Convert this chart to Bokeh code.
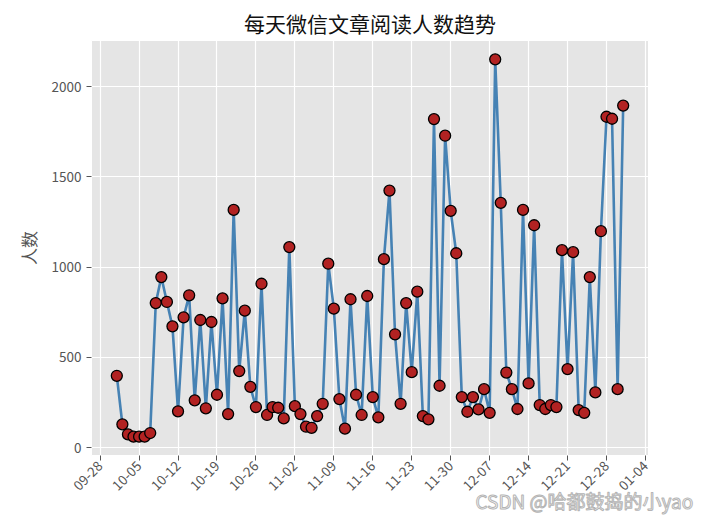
from datetime import datetime, timedelta
from math import pi

from bokeh.plotting import figure
from bokeh.models import (ColumnDataSource, Range1d, FixedTicker, SingleIntervalTicker,
                          CustomJSTickFormatter, Title)
from bokeh.embed import file_html
from bokeh.resources import INLINE

# ---------------- data ----------------
start_date = "2022-10-01"
readers_oct = [398, 129, 74, 61, 61, 61, 81, 801, 945, 807, 672, 201, 722, 844, 262, 707,
               218, 696, 293, 827, 186, 1317, 424, 759, 337, 225, 908, 181, 225, 221, 162]
readers_nov = [1111, 230, 186, 116, 110, 175, 243, 1019, 770, 269, 105, 822, 293, 181, 840,
               280, 168, 1044, 1424, 628, 243, 801, 418, 864, 175, 157, 1820, 343, 1728, 1312]
readers_dec = [1077, 280, 199, 280, 212, 324, 193, 2151, 1356, 416, 324, 214, 1317, 356, 1232,
               236, 214, 236, 225, 1094, 435, 1083, 208, 193, 945, 306, 1199, 1833, 1822, 324, 1895]
tick_labels = ["09-28", "10-05", "10-12", "10-19", "10-26", "11-02", "11-09", "11-16",
               "11-23", "11-30", "12-07", "12-14", "12-21", "12-28", "01-04"]
tick_years = [2022] * 14 + [2023]
title_text = "每天微信文章阅读人数趋势"
y_label = "人数"
watermark = "CSDN @哈都鼓捣的小yao"

readers = readers_oct + readers_nov + readers_dec
d0 = datetime.strptime(start_date, "%Y-%m-%d")
dates = [d0 + timedelta(days=i) for i in range(len(readers))]
src = ColumnDataSource(dict(date=dates, readers=readers))

# matplotlib-like 5% margins
span_x = dates[-1] - dates[0]
xmin, xmax = dates[0] - span_x * 0.05, dates[-1] + span_x * 0.05
span_y = max(readers) - min(readers)
ymin, ymax = min(readers) - 0.05 * span_y, max(readers) + 0.05 * span_y

CJK = "Noto Sans CJK SC"
GREY = "#555555"

p = figure(width=709, height=517, x_axis_type="datetime",
           x_range=Range1d(xmin, xmax), y_range=Range1d(ymin, ymax),
           output_backend="svg", toolbar_location=None,
           min_border_left=91, min_border_right=61, min_border_top=40, min_border_bottom=62)

p.title.text = title_text
p.title.align = "center"
p.title.text_font = CJK
p.title.text_font_size = "21px"
p.title.text_font_style = "normal"
p.title.text_color = "#111111"
p.title.standoff = 6

p.background_fill_color = "#E5E5E5"
p.border_fill_color = "white"
p.outline_line_color = "white"
p.grid.grid_line_color = "white"
p.grid.grid_line_width = 1.2

tick_ms = [datetime(y, int(t[:2]), int(t[3:])).timestamp() * 1000
           for y, t in zip(tick_years, tick_labels)]
p.xaxis.ticker = FixedTicker(ticks=tick_ms)
p.xaxis.formatter = CustomJSTickFormatter(code="""
    const d = new Date(tick);
    const m = String(d.getMonth() + 1).padStart(2, '0');
    const dd = String(d.getDate()).padStart(2, '0');
    return m + '-' + dd;
""")
p.xaxis.major_label_orientation = pi / 4
p.xaxis.major_label_standoff = 3
p.yaxis.ticker = SingleIntervalTicker(interval=500)

for ax in (p.xaxis, p.yaxis):
    ax.axis_line_color = None
    ax.major_tick_line_color = GREY
    ax.major_tick_in = 0
    ax.major_tick_out = 5
    ax.minor_tick_line_color = None
    ax.major_label_text_color = GREY
    ax.major_label_text_font = CJK
    ax.major_label_text_font_size = "13.5px"

p.yaxis.axis_label = y_label
p.yaxis.axis_label_text_font = CJK
p.yaxis.axis_label_text_font_size = "17px"
p.yaxis.axis_label_text_font_style = "normal"
p.yaxis.axis_label_text_color = GREY
p.yaxis.axis_label_standoff = 8

p.line("date", "readers", source=src, line_color="steelblue", line_width=2.6)
p.scatter("date", "readers", source=src, size=11, fill_color="firebrick",
          line_color="black", line_width=1.3)

wm = Title(text=watermark, align="left", offset=384, text_font=CJK,
           text_font_size="19px", text_font_style="normal", text_color="white")
try:
    wm.text_outline_color = "#b4b4b4"
except Exception:
    wm.text_color = "#c8c8c8"
try:
    wm.standoff = -30
except Exception:
    wm.standoff = 0
p.add_layout(wm, "below")

open("out.html", "w").write(file_html(p, INLINE))
